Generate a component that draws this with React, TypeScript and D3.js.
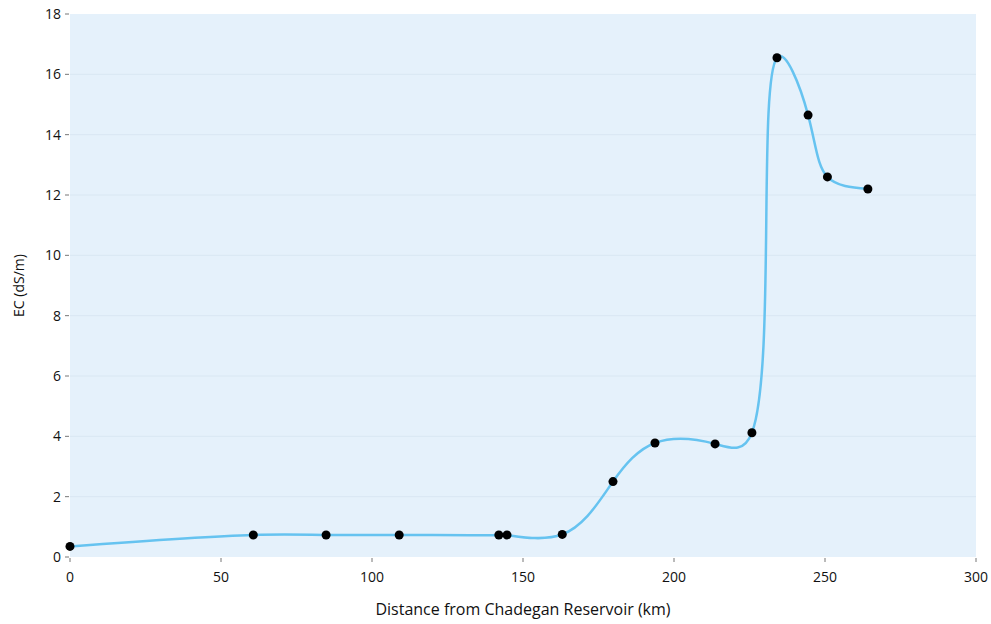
import React from "react";
import * as d3 from "d3";

const distanceKm = [0, 60.7, 84.8, 109, 142, 144.7, 163, 179.8, 193.7, 213.6, 225.8, 234.1, 244.4, 250.8, 264.2];
const ecValues = [0.35, 0.73, 0.73, 0.73, 0.73, 0.73, 0.75, 2.5, 3.78, 3.75, 4.12, 16.55, 14.65, 12.6, 12.2];
const xTicks = [0, 50, 100, 150, 200, 250, 300];
const yTicks = [0, 2, 4, 6, 8, 10, 12, 14, 16, 18];

const W = 991, H = 624;
const M = { left: 70, right: 15, top: 14, bottom: 67 };
const FONT = "'Open Sans', 'Noto Sans', sans-serif";

type P = [number, number];

function naturalDerivs(t: number[], v: number[]): number[] {
  const n = v.length - 1;
  const h = d3.range(n).map(i => t[i + 1] - t[i]);
  const a = new Array(n + 1).fill(0), b = new Array(n + 1).fill(1), c = new Array(n + 1).fill(0), r = new Array(n + 1).fill(0);
  for (let i = 1; i < n; i++) {
    a[i] = h[i - 1]; b[i] = 2 * (h[i - 1] + h[i]); c[i] = h[i];
    r[i] = 6 * ((v[i + 1] - v[i]) / h[i] - (v[i] - v[i - 1]) / h[i - 1]);
  }
  for (let i = 1; i <= n; i++) { const m = a[i] / b[i - 1]; b[i] -= m * c[i - 1]; r[i] -= m * r[i - 1]; }
  const Mv = new Array(n + 1).fill(0);
  Mv[n] = r[n] / b[n];
  for (let i = n - 1; i >= 0; i--) Mv[i] = (r[i] - c[i] * Mv[i + 1]) / b[i];
  Mv[0] = 0; Mv[n] = 0;
  const der: number[] = [];
  for (let i = 0; i < n; i++) der.push((v[i + 1] - v[i]) / h[i] - h[i] * (2 * Mv[i] + Mv[i + 1]) / 6);
  der.push((v[n] - v[n - 1]) / h[n - 1] + h[n - 1] * (Mv[n - 1] + 2 * Mv[n]) / 6);
  return der;
}

// parametric natural cubic spline, centripetal knot spacing
function naturalPath(pts0: P[], alpha: number, k: number): string {
  const pts = pts0.map(p => [p[0], p[1] * k] as P);
  const t = [0];
  for (let i = 1; i < pts.length; i++) t.push(t[i - 1] + Math.pow(Math.hypot(pts[i][0] - pts[i - 1][0], pts[i][1] - pts[i - 1][1]), alpha));
  const dxs = naturalDerivs(t, pts.map(p => p[0]));
  const dys = naturalDerivs(t, pts.map(p => p[1]));
  const path = d3.path();
  path.moveTo(pts0[0][0], pts0[0][1]);
  for (let i = 0; i < pts.length - 1; i++) {
    const h = (t[i + 1] - t[i]) / 3;
    path.bezierCurveTo(pts[i][0] + h * dxs[i], (pts[i][1] + h * dys[i]) / k,
      pts[i + 1][0] - h * dxs[i + 1], (pts[i + 1][1] - h * dys[i + 1]) / k, pts0[i + 1][0], pts0[i + 1][1]);
  }
  return path.toString();
}

export default function App() {
  const x = d3.scaleLinear().domain([0, 300]).range([M.left, W - M.right]);
  const y = d3.scaleLinear().domain([0, 18]).range([H - M.bottom, M.top]);
  const px: P[] = distanceKm.map((d, i) => [x(d), y(ecValues[i])]);
  const [x0, x1] = x.range();
  const [y0, y1] = y.range();
  return (
    <svg width={W} height={H} style={{ position: "absolute", left: 0, top: 0 }} fontFamily={FONT}>
      <rect x={x0} y={y1} width={x1 - x0} height={y0 - y1} fill="#e5f1fb" />
      {yTicks.map(t => (
        <g key={"y" + t}>
          {t > 0 && t < 18 && <line x1={x0} x2={x1} y1={y(t)} y2={y(t)} stroke="#d9e7f2" strokeWidth={1} />}
          <line x1={x0 - 5} x2={x0 - 1} y1={y(t)} y2={y(t)} stroke="#777" strokeWidth={1} />
          <text x={x0 - 9} y={y(t)} dy="0.35em" textAnchor="end" fontSize={14} fill="#111">{t}</text>
        </g>
      ))}
      {xTicks.map(t => (
        <g key={"x" + t}>
          <line x1={x(t)} x2={x(t)} y1={y0 + 1} y2={y0 + 5} stroke="#777" strokeWidth={1} />
          <text x={x(t)} y={y0 + 25} textAnchor="middle" fontSize={14} fill="#111">{t}</text>
        </g>
      ))}
      <path d={naturalPath(px, 0.5, 0.85)} fill="none" stroke="#66c3f0" strokeWidth={2.5} />
      {px.map((p, i) => (
        <circle key={i} cx={p[0]} cy={p[1]} r={4.5} fill="#000" />
      ))}
      <text x={(x0 + x1) / 2} y={615} textAnchor="middle" fontSize={16} fill="#111">Distance from Chadegan Reservoir (km)</text>
      <text transform={`translate(24,${(y0 + y1) / 2}) rotate(-90)`} textAnchor="middle" fontSize={14} fill="#111">EC (dS/m)</text>
    </svg>
  );
}
